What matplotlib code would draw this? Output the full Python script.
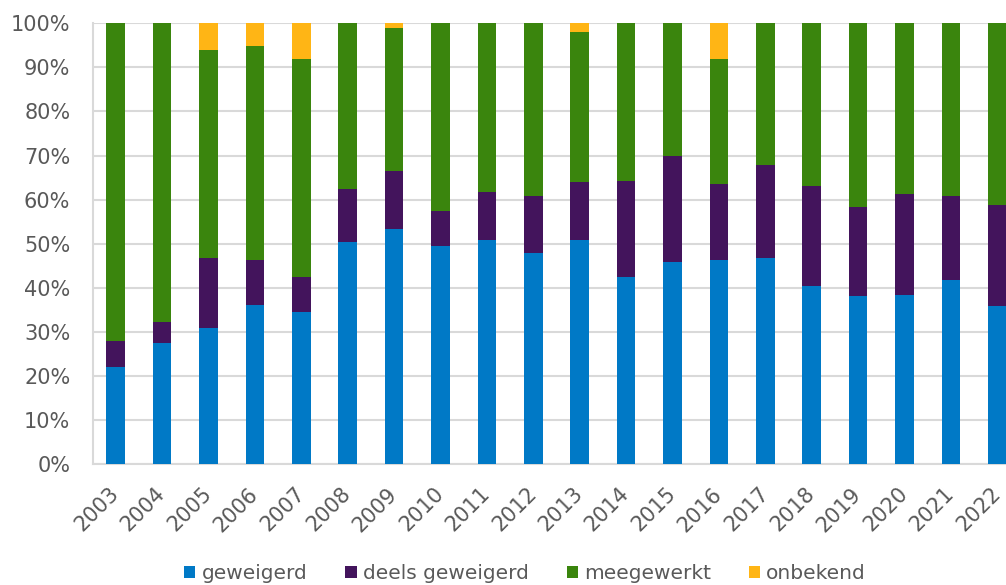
import numpy as np
import matplotlib
matplotlib.use('Agg')
import matplotlib.pyplot as plt
from matplotlib.ticker import PercentFormatter

years = [str(y) for y in range(2003, 2023)]
geweigerd = [22, 27.5, 30.8, 36.1, 34.5, 50.4, 53.4, 49.4, 50.9, 47.8,
             50.9, 42.5, 45.8, 46.3, 46.8, 40.4, 38.2, 38.4, 41.8, 35.8]
deels_geweigerd = [6, 4.8, 16.0, 10.2, 7.9, 12.1, 13.2, 8.0, 10.9, 13.1,
                   13.0, 21.7, 24.1, 17.2, 21.1, 22.8, 20.2, 22.8, 19.1, 22.9]
onbekend = [0, 0, 6.1, 5.1, 8.0, 0, 1.1, 0, 0, 0,
            2.1, 0, 0, 8.1, 0, 0, 0, 0, 0, 0]
meegewerkt = [100 - a - b - c for a, b, c in zip(geweigerd, deels_geweigerd, onbekend)]

series = [('geweigerd', geweigerd, '#0079C6'),
          ('deels geweigerd', deels_geweigerd, '#43145C'),
          ('meegewerkt', meegewerkt, '#3A850D'),
          ('onbekend', onbekend, '#FFB515')]

txt = '#595959'
fig = plt.figure(figsize=(10.06, 5.85), dpi=100)
ax = fig.add_axes([0.092, 0.2063, 0.9225, 0.754])

x = np.arange(len(years))
bottom = np.zeros(len(years))
for name, vals, col in series:
    vals = np.array(vals)
    ax.bar(x, vals, 0.4, bottom=bottom, color=col, label=name, zorder=3)
    bottom += vals

ax.set_xlim(-0.5, len(years) - 0.5)
ax.set_ylim(0, 100)
ax.set_yticks(np.arange(0, 101, 10))
ax.yaxis.set_major_formatter(PercentFormatter(decimals=0))
ax.grid(axis='y', color='#d9d9d9', linewidth=1.5, zorder=0)
ax.set_xticks(x)
ax.set_xticklabels(years, rotation=45, ha='right', va='center', rotation_mode='anchor')
ax.tick_params(axis='both', length=0, labelsize=15, colors=txt)
ax.tick_params(axis='x', pad=19)
ax.tick_params(axis='y', pad=16)
for s in ['top', 'right']:
    ax.spines[s].set_visible(False)
for s in ['left', 'bottom']:
    ax.spines[s].set_color('#d9d9d9')
    ax.spines[s].set_linewidth(1.5)

leg = fig.legend(loc='lower center', bbox_to_anchor=(0.522, -0.028), ncol=4,
                 frameon=False, fontsize=14.5, handlelength=0.55, handleheight=0.55,
                 handletextpad=0.3, columnspacing=1.9)
for t in leg.get_texts():
    t.set_color(txt)

fig.savefig('out.png', dpi=100)
